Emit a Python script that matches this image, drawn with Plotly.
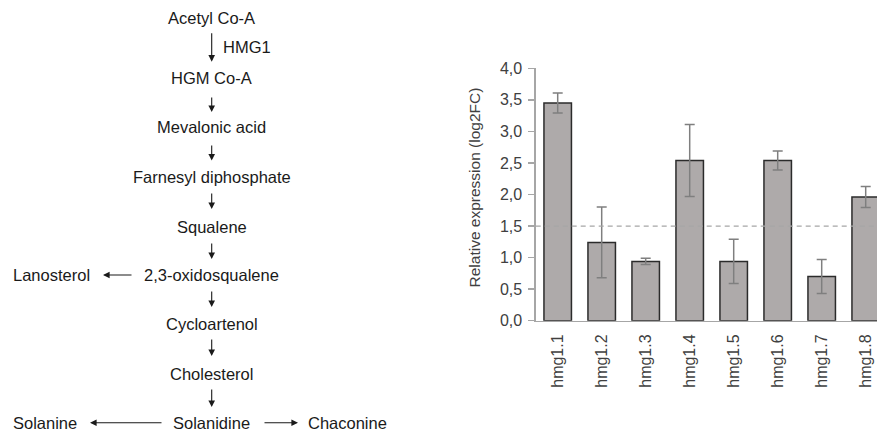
import plotly.graph_objects as go

# ---------------- data ----------------
categories = ["hmg1.1", "hmg1.2", "hmg1.3", "hmg1.4", "hmg1.5", "hmg1.6", "hmg1.7", "hmg1.8"]
values = [3.45, 1.24, 0.94, 2.54, 0.94, 2.54, 0.70, 1.96]
errors = [0.16, 0.56, 0.05, 0.57, 0.35, 0.15, 0.27, 0.165]
threshold = 1.5
y_ticks = [0.0, 0.5, 1.0, 1.5, 2.0, 2.5, 3.0, 3.5, 4.0]

pathway_main = ["Acetyl Co-A", "HGM Co-A", "Mevalonic acid", "Farnesyl diphosphate",
                "Squalene", "2,3-oxidosqualene", "Cycloartenol", "Cholesterol", "Solanidine"]
enzyme_label = "HMG1"
branch_labels = ["Lanosterol", "Solanine", "Chaconine"]

# ---------------- layout helpers (window pixel -> paper) ----------------
WIN_W, WIN_H = 877, 434
W, H = WIN_W, WIN_H
def px(x):
    return x / W
def py(y):
    return 1 - y / H

AX_LEFT = 535.7
Y_TOP = 68.3
Y_BOT = 320.7

fig = go.Figure()
fig.add_trace(go.Bar(
    x=categories, y=values,
    width=0.625,
    marker=dict(color="#AEAAAA", line=dict(color="#2b2b2b", width=1.5)),
    error_y=dict(type="data", array=errors, visible=True, color="#7f7f7f", thickness=1.5, width=5),
    showlegend=False,
))

annotations = []
DFONT = dict(family="Liberation Sans, Arial, sans-serif", size=16.5, color="#1a1a1a")

# pathway text
main_y = [18.3, 78.3, 126.7, 177.3, 227.3, 275, 324.3, 374.3, 422.7]
cx = 211.7
for name, yy in zip(pathway_main, main_y):
    annotations.append(dict(x=px(cx), y=py(yy), xref="paper", yref="paper", text=name,
                            showarrow=False, xanchor="center", yanchor="middle", font=DFONT))
annotations.append(dict(x=px(221), y=py(46.7), xref="paper", yref="paper", text=enzyme_label,
                        showarrow=False, xanchor="left", yanchor="middle", font=DFONT))
annotations.append(dict(x=px(51.7), y=py(275), xref="paper", yref="paper", text=branch_labels[0],
                        showarrow=False, xanchor="center", yanchor="middle", font=DFONT))
annotations.append(dict(x=px(45), y=py(422.7), xref="paper", yref="paper", text=branch_labels[1],
                        showarrow=False, xanchor="center", yanchor="middle", font=DFONT))
annotations.append(dict(x=px(306), y=py(422.7), xref="paper", yref="paper", text=branch_labels[2],
                        showarrow=False, xanchor="left", yanchor="middle", font=DFONT))

# arrows: (tail_x, tail_y, tip_x, tip_y)
arrows = [
    (cx, 31.7, cx, 61.7),
    (cx, 96, cx, 112),
    (cx, 144, cx, 160.5),
    (cx, 192, cx, 209),
    (cx, 242, cx, 259),
    (cx, 290, cx, 307),
    (cx, 338, cx, 356),
    (cx, 388, cx, 407),
    (133, 275, 103, 275),
    (163, 422.7, 90, 422.7),
    (263, 422.7, 298, 422.7),
]
for tx, ty, hx, hy in arrows:
    annotations.append(dict(x=px(hx), y=py(hy), xref="paper", yref="paper", text="",
                            showarrow=True, ax=tx - hx, ay=ty - hy, axref="pixel", ayref="pixel",
                            arrowhead=2, arrowsize=1.2, arrowwidth=1.1, arrowcolor="#1a1a1a",
                            standoff=0, startstandoff=0))

# y axis title
annotations.append(dict(x=px(474), y=py(187.5), xref="paper", yref="paper",
                        text="Relative expression (log2FC)", textangle=-90, showarrow=False,
                        xanchor="center", yanchor="middle",
                        font=dict(family="Liberation Sans, Arial, sans-serif", size=15.5, color="#404040")))

fig.add_shape(type="line", xref="x domain", yref="y", x0=0, x1=1, y0=threshold, y1=threshold,
              line=dict(color="#a6a6a6", width=1.3, dash="5px,4px"))

fig.update_layout(
    width=W, height=H,
    margin=dict(l=0, r=0, t=0, b=0),
    paper_bgcolor="white", plot_bgcolor="rgba(0,0,0,0)",
    separators=", ",
    annotations=annotations,
    bargap=0.375,
    xaxis=dict(domain=[px(AX_LEFT), 1], type="category", range=[-0.5, -0.5 + (WIN_W - AX_LEFT) / 44.0],
               showline=True, linecolor="#a6a6a6", linewidth=1.3, ticks="", tickangle=-90,
               ticklabelstandoff=6,
               tickfont=dict(family="Liberation Sans, Arial, sans-serif", size=16, color="#404040"),
               showgrid=False, zeroline=False, automargin=False, fixedrange=True),
    yaxis=dict(domain=[py(Y_BOT), py(Y_TOP)], range=[0, 4.0],
               tickvals=y_ticks, tickformat=".1f",
               showline=True, linecolor="#a6a6a6", linewidth=1.3, ticks="outside", ticklen=6,
               tickcolor="#a6a6a6", tickwidth=1.3, ticklabelstandoff=3,
               tickfont=dict(family="Liberation Sans, Arial, sans-serif", size=16, color="#404040"),
               showgrid=False, zeroline=False, automargin=False, fixedrange=True),
)

fig.write_html("out.html",
               config={"displayModeBar": False, "staticPlot": True},
               post_script="document.body.style.margin='0px';document.body.style.overflow='hidden';")
